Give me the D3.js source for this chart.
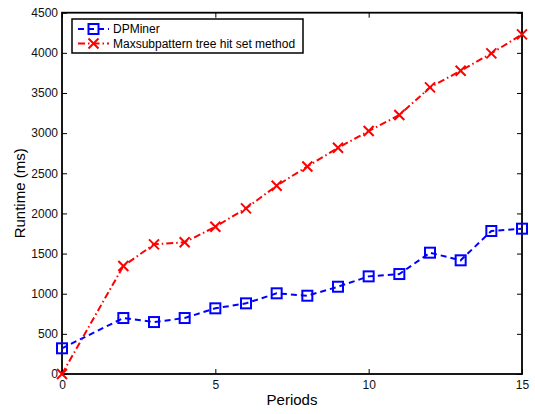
<!DOCTYPE html>
<html>
<head>
<meta charset="utf-8">
<script src="https://cdn.jsdelivr.net/npm/d3@7"></script>
<style>
  html, body { margin: 0; padding: 0; background: #fff; }
  svg { display: block; font-family: "Liberation Sans", Arial, Helvetica, sans-serif; }
</style>
</head>
<body>
<svg id="chart" width="535" height="414"></svg>
<script>
// Runtime measured for each number of periods
const periods = [0, 2, 3, 4, 5, 6, 7, 8, 9, 10, 11, 12, 13, 14, 15];
const dpminer = [320, 697, 647, 697, 818, 880, 1005, 975, 1087, 1216, 1245, 1511, 1416, 1781, 1810];
const maxsub = [0, 1345, 1615, 1640, 1834, 2063, 2345, 2585, 2817, 3026, 3225, 3570, 3777, 3993, 4230];
const seriesNames = ["DPMiner", "Maxsubpattern tree hit set method"];
const xTicks = [0, 5, 10, 15];
const yTicks = [0, 500, 1000, 1500, 2000, 2500, 3000, 3500, 4000, 4500];

const svg = d3.select("#chart");
const plotLeft = 62, plotRight = 522, plotTop = 12.7, plotBottom = 374;

const x = d3.scaleLinear().domain([0, 15]).range([plotLeft, plotRight]);
const y = d3.scaleLinear().domain([0, 4500]).range([plotBottom, plotTop]);
const fmt = d3.format("d");

// Axes with inward ticks on all four sides
const tickLen = 5;
svg.append("g").attr("transform", `translate(0,${plotBottom})`)
  .call(d3.axisBottom(x).tickValues(xTicks).tickFormat(fmt).tickSizeInner(-tickLen).tickSizeOuter(0).tickPadding(6))
  .call(g => g.select(".domain").remove());
svg.append("g").attr("transform", `translate(0,${plotTop})`)
  .call(d3.axisTop(x).tickValues(xTicks).tickSizeInner(-tickLen).tickSizeOuter(0).tickFormat(""))
  .call(g => g.select(".domain").remove());
svg.append("g").attr("transform", `translate(${plotLeft},0)`)
  .call(d3.axisLeft(y).tickValues(yTicks).tickFormat(fmt).tickSizeInner(-tickLen).tickSizeOuter(0).tickPadding(4))
  .call(g => g.select(".domain").remove());
svg.append("g").attr("transform", `translate(${plotRight},0)`)
  .call(d3.axisRight(y).tickValues(yTicks).tickSizeInner(-tickLen).tickSizeOuter(0).tickFormat(""))
  .call(g => g.select(".domain").remove());

svg.selectAll(".tick line").attr("stroke", "#000").attr("stroke-width", 1);
svg.selectAll(".tick text").attr("fill", "#111").style("font-size", "12px")
  .style("font-family", "'Liberation Sans', Arial, sans-serif");

// Plot box
svg.append("rect")
  .attr("x", plotLeft).attr("y", plotTop)
  .attr("width", plotRight - plotLeft).attr("height", plotBottom - plotTop)
  .attr("fill", "none").attr("stroke", "#000").attr("stroke-width", 1.8);

// Series
const lineGen = vals => d3.line().x((d, i) => x(periods[i])).y(d => y(d))(vals);

svg.append("path").attr("d", lineGen(dpminer))
  .attr("fill", "none").attr("stroke", "#0000ff").attr("stroke-width", 2)
  .attr("stroke-dasharray", "6,4");
svg.append("path").attr("d", lineGen(maxsub))
  .attr("fill", "none").attr("stroke", "#ff0000").attr("stroke-width", 2)
  .attr("stroke-dasharray", "7,3,1.5,3");

const ms = 5;
function square(g, cx, cy) {
  g.append("rect").attr("x", cx - ms).attr("y", cy - ms)
    .attr("width", 2 * ms).attr("height", 2 * ms)
    .attr("fill", "none").attr("stroke", "#0000ff").attr("stroke-width", 2);
}
function cross(g, cx, cy) {
  g.append("path")
    .attr("d", `M${cx - ms},${cy - ms}L${cx + ms},${cy + ms}M${cx - ms},${cy + ms}L${cx + ms},${cy - ms}`)
    .attr("stroke", "#ff0000").attr("stroke-width", 2).attr("fill", "none");
}
const markers = svg.append("g");
dpminer.forEach((v, i) => square(markers, x(periods[i]), y(v)));
maxsub.forEach((v, i) => cross(markers, x(periods[i]), y(v)));

// Axis labels
svg.append("text").attr("x", (plotLeft + plotRight) / 2).attr("y", 405)
  .attr("text-anchor", "middle").style("font-size", "15px").text("Periods");
svg.append("text").attr("transform", `translate(25,${(plotTop + plotBottom) / 2}) rotate(-90)`)
  .attr("text-anchor", "middle").style("font-size", "15px").text("Runtime (ms)");

// Legend
const leg = svg.append("g");
leg.append("rect").attr("x", 72).attr("y", 19).attr("width", 231).attr("height", 34)
  .attr("fill", "#fff").attr("stroke", "#000").attr("stroke-width", 1.5);
const rows = [29, 43.5];
leg.append("line").attr("x1", 78).attr("x2", 109).attr("y1", rows[0]).attr("y2", rows[0])
  .attr("stroke", "#0000ff").attr("stroke-width", 2).attr("stroke-dasharray", "6,4");
square(leg, 93.5, rows[0]);
leg.append("line").attr("x1", 78).attr("x2", 109).attr("y1", rows[1]).attr("y2", rows[1])
  .attr("stroke", "#ff0000").attr("stroke-width", 2).attr("stroke-dasharray", "7,3,1.5,3");
cross(leg, 93.5, rows[1]);
seriesNames.forEach((n, i) => {
  leg.append("text").attr("x", 113).attr("y", rows[i] + 4.3)
    .style("font-size", "12px").text(n);
});
</script>
</body>
</html>
